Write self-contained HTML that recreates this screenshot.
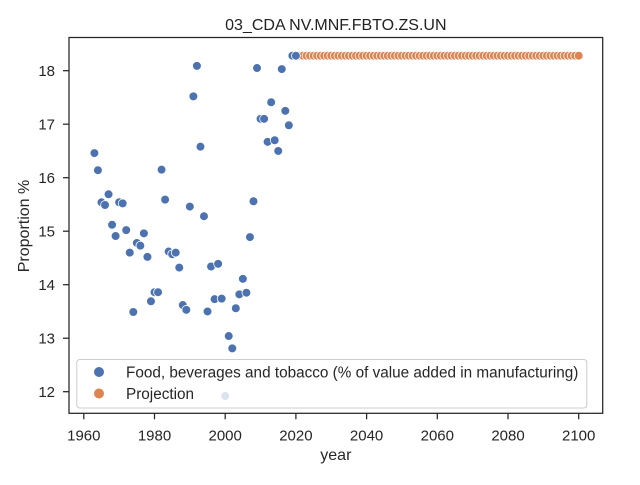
<!DOCTYPE html>
<html><head><meta charset="utf-8"><style>
body{margin:0;background:#fff;font-family:"Liberation Sans","DejaVu Sans",sans-serif;}
</style></head><body>
<svg id="c" width="640" height="480" xmlns="http://www.w3.org/2000/svg"></svg>
<script>
const years=[1963,1964,1965,1966,1967,1968,1969,1970,1971,1972,1973,1974,1975,1976,1977,1978,1979,1980,1981,1982,1983,1984,1985,1986,1987,1988,1989,1990,1991,1992,1993,1994,1995,1996,1997,1998,1999,2000,2001,2002,2003,2004,2005,2006,2007,2008,2009,2010,2011,2012,2013,2014,2015,2016,2017,2018,2019,2020];
const values=[16.46,16.14,15.54,15.49,15.69,15.12,14.91,15.54,15.52,15.02,14.60,13.49,14.78,14.73,14.96,14.52,13.69,13.86,13.86,16.15,15.59,14.62,14.57,14.60,14.32,13.62,13.53,15.46,17.52,18.09,16.58,15.28,13.50,14.34,13.73,14.39,13.74,11.92,13.04,12.81,13.56,13.82,14.11,13.85,14.89,15.56,18.05,17.10,17.10,16.67,17.41,16.70,16.50,18.03,17.25,16.98,18.28,18.28];
const projStart=2021, projEnd=2100;
const projValue=18.28;
const xTicks=[1960,1980,2000,2020,2040,2060,2080,2100];
const yTicks=[12,13,14,15,16,17,18];

const svg=document.getElementById('c');
const NS='http://www.w3.org/2000/svg';
const L=69,R=602.7,T=37.5,B=413.3;
const x=v=>578.7-(2100-v)*3.535;
const y=v=>391.7-(v-12)*53.5;
function mk(tag,attrs,parent){const e=document.createElementNS(NS,tag);for(const k in attrs)e.setAttribute(k,attrs[k]);(parent||svg).appendChild(e);return e;}

const title=mk('text',{x:(L+R)/2,y:30,'text-anchor':'middle','font-size':16,fill:'#222'});
title.textContent='03_CDA NV.MNF.FBTO.ZS.UN';



const g=mk('g',{});


for(let yr=projStart;yr<=projEnd;yr++){
  const c=mk('circle',{cx:x(yr),cy:y(projValue),r:4.4,fill:'#dd8452',stroke:'#fff','stroke-width':0.8},g);
  
  
}
years.forEach((yr,i)=>{
  const c=mk('circle',{cx:x(yr),cy:y(values[i]),r:4.4,fill:'#4c72b0',stroke:'#fff','stroke-width':0.8},g);
  
  
});

const frame=mk('rect',{x:L,y:T,width:R-L,height:B-T,fill:'none',stroke:'#262626','stroke-width':1.25});



xTicks.forEach(t=>{
  mk('line',{x1:x(t),x2:x(t),y1:B,y2:B+6,stroke:'#262626','stroke-width':1.25});
  const tx=mk('text',{x:x(t),y:B+27,'text-anchor':'middle','font-size':15,fill:'#262626'});
  tx.textContent=t;
  
  
});
yTicks.forEach(t=>{
  mk('line',{x1:L-6,x2:L,y1:y(t),y2:y(t),stroke:'#262626','stroke-width':1.25});
  const tx=mk('text',{x:L-14,y:y(t)+5.5,'text-anchor':'end','font-size':15,fill:'#262626'});
  tx.textContent=t;
  
  
});
const xl=mk('text',{x:(L+R)/2,y:460,'text-anchor':'middle','font-size':16,fill:'#262626'});
xl.textContent='year';


const yl=mk('text',{x:0,y:0,'text-anchor':'middle','font-size':16,fill:'#262626',transform:'translate(29,226) rotate(-90)'});
yl.textContent='Proportion %';



const lg=mk('g',{});


mk('rect',{x:76.8,y:359.5,width:510,height:48.5,rx:3,fill:'#fff','fill-opacity':0.8,stroke:'#ccc'},lg);
mk('circle',{cx:99,cy:372,r:5,fill:'#4c72b0'},lg);
const t1=mk('text',{x:126,y:377.5,'font-size':15.3,fill:'#262626'},lg);
t1.textContent='Food, beverages and tobacco (% of value added in manufacturing)';


mk('circle',{cx:99,cy:393.5,r:5,fill:'#dd8452'},lg);
const t2=mk('text',{x:126,y:399,'font-size':15.3,fill:'#262626'},lg);
t2.textContent='Projection';


</script>
</body></html>
